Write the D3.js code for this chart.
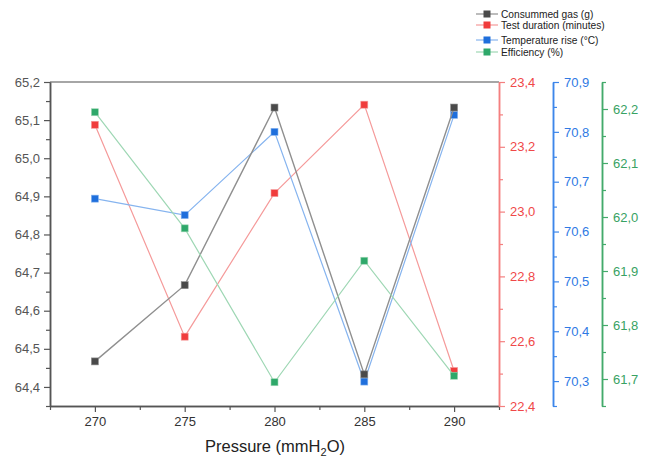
<!DOCTYPE html>
<html>
<head>
<meta charset="utf-8">
<script src="https://cdn.jsdelivr.net/npm/d3@7"></script>
<style>
  body { margin: 0; background: #fff; }
  svg { display: block; font-family: "Liberation Sans", Arial, sans-serif; }
</style>
</head>
<body>
<div id="chart"></div>
<script>
// data
const pressure = [270, 275, 280, 285, 290];
const gasConsumed = [64.467, 64.667, 65.133, 64.433, 65.133];
const testDuration = [23.268, 22.614, 23.057, 23.330, 22.508];
const tempRise = [70.666, 70.633, 70.800, 70.299, 70.834];
const efficiency = [62.194, 61.979, 61.694, 61.919, 61.706];

const xTicks = [270, 275, 280, 285, 290];
const gasTicks = [64.4, 64.5, 64.6, 64.7, 64.8, 64.9, 65.0, 65.1, 65.2];
const durTicks = [22.4, 22.6, 22.8, 23.0, 23.2, 23.4];
const tempTicks = [70.3, 70.4, 70.5, 70.6, 70.7, 70.8, 70.9];
const effTicks = [61.7, 61.8, 61.9, 62.0, 62.1, 62.2];

const seriesNames = ["Consummed gas (g)", "Test duration (minutes)", "Temperature rise (°C)", "Efficiency (%)"];

const width = 651, height = 459;
const plotLeft = 50, plotRight = 499, plotTop = 82, plotBottom = 406;

const svg = d3.select("#chart").append("svg")
    .attr("width", width)
    .attr("height", height);

const fmt = d3.formatLocale({decimal: ",", thousands: ".", grouping: [3], currency: ["", ""]}).format(".1f");

const x = d3.scaleLinear().domain([267.5, 292.5]).range([plotLeft, plotRight]);
const yGas = d3.scaleLinear().domain([64.35, 65.2]).range([plotBottom, plotTop]);
const yDur = d3.scaleLinear().domain([22.4, 23.4]).range([plotBottom, plotTop]);
const yTemp = d3.scaleLinear().domain([70.25, 70.9]).range([plotBottom, plotTop]);
const yEff = d3.scaleLinear().domain([61.65, 62.25]).range([plotBottom, plotTop]);

// midpoints between majors plus one step past each end
function minors(ticks, lo, hi) {
    const step = (ticks[1] - ticks[0]) / 2;
    const out = [];
    for (let v = ticks[0] - step; v <= hi + 1e-9; v += 2 * step) {
        if (v >= lo - 1e-9) out.push(v);
    }
    return out;
}

function drawAxis(g, axisFn, scale, majors, color, labelColor, pos) {
    const dom = scale.domain();
    g.append("g").call(axisFn(scale).tickValues(minors(majors, dom[0], dom[1]))
        .tickSize(4).tickSizeOuter(0).tickFormat(""));
    g.append("g").call(axisFn(scale).tickValues(majors)
        .tickSize(6).tickSizeOuter(0).tickPadding(pos === "left" ? 4 : 5).tickFormat(pos === "bottom" ? d3.format("d") : fmt));
    g.selectAll(".domain").attr("stroke", color).attr("stroke-width", 1.5);
    g.selectAll(".tick line").attr("stroke", color).attr("stroke-width", 1.2);
    g.selectAll(".tick text").attr("fill", labelColor).attr("font-size", 13)
        .attr("font-family", "'Liberation Sans', Arial, sans-serif");
}

// frame top line
svg.append("line")
    .attr("x1", plotLeft).attr("x2", plotRight).attr("y1", plotTop).attr("y2", plotTop)
    .attr("stroke", "#888").attr("stroke-width", 1.5);

drawAxis(svg.append("g").attr("transform", `translate(0,${plotBottom})`), d3.axisBottom, x, xTicks, "#555", "#333", "bottom");
drawAxis(svg.append("g").attr("transform", `translate(${plotLeft},0)`), d3.axisLeft, yGas, gasTicks, "#555", "#555", "left");
drawAxis(svg.append("g").attr("transform", `translate(${plotRight},0)`), d3.axisRight, yDur, durTicks, "#f47f7f", "#f04848", "right");
drawAxis(svg.append("g").attr("transform", "translate(553,0)"), d3.axisRight, yTemp, tempTicks, "#3d86ea", "#2f7ae4", "right");
drawAxis(svg.append("g").attr("transform", "translate(602,0)"), d3.axisRight, yEff, effTicks, "#43aa6b", "#38a263", "right");

// x axis title with subscript
const title = svg.append("text")
    .attr("x", 275).attr("y", 452)
    .attr("text-anchor", "middle")
    .attr("font-size", 16.5)
    .attr("fill", "#222");
title.append("tspan").text("Pressure (mmH");
title.append("tspan").attr("font-size", 11).attr("dy", 4).text("2");
title.append("tspan").attr("dy", -4).text("O)");

const series = [
    {name: seriesNames[1], values: testDuration, y: yDur, line: "#f59a9a", fill: "#f03c3c", width: 1.2},
    {name: seriesNames[2], values: tempRise, y: yTemp, line: "#86b4ef", fill: "#1f6fdc", width: 1.2},
    {name: seriesNames[0], values: gasConsumed, y: yGas, line: "#8f8f8f", fill: "#4a4a4a", width: 1.4},
    {name: seriesNames[3], values: efficiency, y: yEff, line: "#9ed7b4", fill: "#2ea86a", width: 1.2}
];

series.forEach(s => {
    const pts = pressure.map((p, i) => [p, s.values[i]]);
    svg.append("path")
        .datum(pts)
        .attr("fill", "none")
        .attr("stroke", s.line)
        .attr("stroke-width", s.width)
        .attr("d", d3.line().x(d => x(d[0])).y(d => s.y(d[1])));
    svg.append("g").selectAll("rect")
        .data(pts)
        .enter().append("rect")
        .attr("x", d => x(d[0]) - 3.5)
        .attr("y", d => s.y(d[1]) - 3.5)
        .attr("width", 7).attr("height", 7)
        .attr("fill", s.fill)
        .attr("stroke", s.line)
        .attr("stroke-width", 0.6);
});

// legend
const legendRows = [
    {name: seriesNames[0], line: "#8f8f8f", fill: "#4a4a4a", y: 14},
    {name: seriesNames[1], line: "#f59a9a", fill: "#f03c3c", y: 25},
    {name: seriesNames[2], line: "#86b4ef", fill: "#1f6fdc", y: 40},
    {name: seriesNames[3], line: "#9ed7b4", fill: "#2ea86a", y: 52}
];
const legend = svg.append("g").selectAll("g")
    .data(legendRows)
    .enter().append("g");
legend.append("line")
    .attr("x1", 476).attr("x2", 498)
    .attr("y1", d => d.y).attr("y2", d => d.y)
    .attr("stroke", d => d.line).attr("stroke-width", 1.2);
legend.append("rect")
    .attr("x", 483.5).attr("y", d => d.y - 3.5)
    .attr("width", 7).attr("height", 7)
    .attr("fill", d => d.fill);
legend.append("text")
    .attr("x", 501).attr("y", d => d.y + 3.6)
    .attr("font-size", 10.2)
    .attr("fill", "#222")
    .text(d => d.name);
</script>
</body>
</html>
